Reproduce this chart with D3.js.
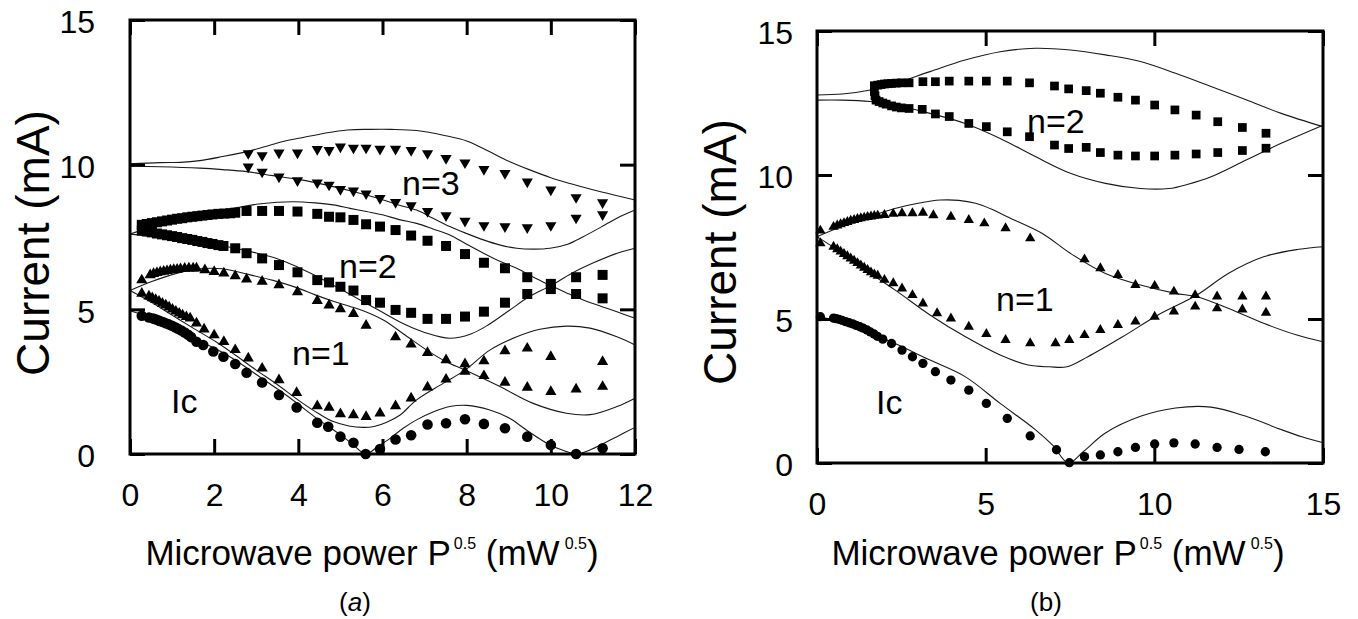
<!DOCTYPE html>
<html><head><meta charset="utf-8">
<script src="https://cdn.jsdelivr.net/npm/d3@7"></script>
<style>body{margin:0;background:#fff} svg{display:block} text{font-family:"Liberation Sans",Arial,Helvetica,sans-serif;fill:#000}</style>
</head><body><svg id="c" width="1358" height="619"></svg>
<script>
// ---------- Panel (a) data ----------
const aXTicks = [0,2,4,6,8,10,12];
const aYTicks = [0,5,10,15];
const aIc = [[0.28,4.78],[0.45,4.72],[0.55,4.68],[0.62,4.65],[0.7,4.6],[0.78,4.56],[0.85,4.52],[0.92,4.48],[1.0,4.43],[1.07,4.38],[1.14,4.33],[1.22,4.27],[1.3,4.2],[1.38,4.12],[1.45,4.04],[1.58,3.88],[1.74,3.77],[1.98,3.54],[2.22,3.36],[2.5,3.11],[2.77,2.81],[3.14,2.47],[3.54,2.04],[3.96,1.61],[4.45,1.08],[4.71,0.94],[5.0,0.6],[5.31,0.39],[5.6,0.0],[5.94,0.17],[6.31,0.5],[6.68,0.65],[7.07,1.02],[7.51,1.06],[7.96,1.2],[8.41,1.04],[8.91,0.89],[9.44,0.6],[10.0,0.31],[10.6,0.0],[11.23,0.2]];
const aN1 = [[0.28,6.01],[0.48,6.19],[0.56,6.23],[0.64,6.26],[0.72,6.29],[0.8,6.31],[0.88,6.33],[0.96,6.35],[1.04,6.37],[1.12,6.38],[1.2,6.4],[1.3,6.41],[1.4,6.42],[1.5,6.42],[1.58,6.42],[1.78,6.36],[2.0,6.3],[2.23,6.25],[2.5,6.15],[2.77,6.04],[3.14,5.96],[3.54,5.84],[3.98,5.6],[4.45,5.3],[4.73,5.14],[5.0,5.01],[5.31,4.85],[5.61,4.44],[6.31,4.04],[6.68,3.79],[7.07,3.5],[7.51,3.25],[7.96,3.11],[8.41,3.21],[8.91,3.56],[9.44,3.65],[10.0,3.36],[11.23,3.19],
  [0.28,5.55],[0.45,5.45],[0.53,5.39],[0.61,5.33],[0.69,5.27],[0.77,5.2],[0.85,5.14],[0.93,5.07],[1.01,5.0],[1.09,4.93],[1.17,4.86],[1.25,4.8],[1.34,4.74],[1.43,4.69],[1.58,4.52],[1.76,4.31],[2.0,4.11],[2.23,3.88],[2.5,3.6],[2.81,3.31],[3.14,2.96],[3.54,2.56],[3.96,2.12],[4.45,1.66],[4.73,1.61],[5.0,1.38],[5.31,1.35],[5.61,1.29],[5.94,1.41],[6.31,1.66],[6.68,1.93],[7.07,2.31],[7.51,2.58],[7.96,2.85],[8.41,2.7],[8.91,2.47],[9.44,2.3],[10.0,2.15],[10.6,2.24],[11.23,2.33]];
const aN2 = [[0.28,7.92],[0.4,7.95],[0.52,7.98],[0.64,8.01],[0.76,8.04],[0.88,8.07],[1.0,8.1],[1.12,8.13],[1.24,8.15],[1.36,8.18],[1.48,8.2],[1.6,8.22],[1.72,8.24],[1.84,8.26],[1.96,8.28],[2.1,8.3],[2.24,8.31],[2.38,8.32],[2.5,8.34],[2.77,8.4],[3.14,8.4],[3.54,8.4],[3.98,8.38],[4.45,8.3],[4.73,8.2],[5.0,8.18],[5.31,8.09],[5.61,7.94],[5.94,7.86],[6.31,7.74],[6.68,7.55],[7.07,7.37],[7.51,7.19],[7.96,6.91],[8.41,6.61],[8.91,6.42],[9.44,6.11],[10.0,5.88],[10.6,6.11],[11.23,6.19],
  [0.28,7.72],[0.4,7.69],[0.52,7.66],[0.64,7.62],[0.76,7.59],[0.88,7.56],[1.0,7.53],[1.12,7.5],[1.24,7.46],[1.36,7.43],[1.48,7.4],[1.6,7.36],[1.72,7.33],[1.84,7.29],[1.96,7.26],[2.1,7.22],[2.22,7.19],[2.5,7.11],[2.77,6.94],[3.14,6.76],[3.54,6.53],[3.98,6.28],[4.45,6.01],[4.73,5.93],[5.0,5.78],[5.31,5.65],[5.61,5.32],[5.94,5.23],[6.31,4.98],[6.68,4.88],[7.07,4.67],[7.51,4.67],[7.96,4.75],[8.41,4.92],[8.91,5.23],[9.44,5.53],[10.0,5.7],[10.6,5.53],[11.23,5.38]];
const aN3 = [[2.81,10.39],[3.14,10.32],[3.54,10.41],[3.98,10.41],[4.45,10.53],[4.73,10.5],[5.0,10.62],[5.31,10.58],[5.61,10.58],[5.94,10.54],[6.31,10.54],[6.68,10.5],[7.07,10.39],[7.51,10.22],[7.96,10.07],[8.41,9.84],[8.91,9.7],[9.44,9.41],[10.0,9.13],[10.6,8.87],[11.23,8.69],
  [2.81,9.93],[3.14,9.75],[3.54,9.58],[3.98,9.45],[4.45,9.38],[4.73,9.3],[5.0,9.15],[5.31,9.1],[5.61,9.0],[5.94,8.84],[6.31,8.7],[6.68,8.59],[7.07,8.39],[7.51,8.24],[7.96,8.05],[8.41,7.9],[8.91,7.86],[9.44,7.83],[10.0,7.9],[10.6,8.16],[11.23,8.28]];
const aLineIc = [[0,4.95],[0.5,4.7],[0.87,4.4],[1.5,4.0],[1.98,3.68],[2.5,3.25],[2.85,2.9],[3.2,2.55],[3.6,2.15],[4.0,1.72],[4.44,1.23],[5.0,0.66],[5.3,0.33],[5.6,0.0],[5.9,0.27],[6.18,0.54],[6.5,0.9],[6.81,1.18],[7.2,1.45],[7.6,1.64],[8.0,1.68],[8.55,1.52],[9.0,1.25],[9.42,0.83],[9.98,0.31],[10.3,0.12],[10.61,0.0],[10.93,0.14],[11.3,0.4],[11.57,0.6],[12,0.92]];
const aLineN1a = [[0,5.65],[0.5,5.25],[1.0,4.8],[1.5,4.35],[2.06,3.86],[2.5,3.42],[3.0,2.9],[3.5,2.4],[4.04,1.82],[4.5,1.38],[4.83,1.12],[5.2,0.97],[5.54,0.92],[5.8,0.95],[6.1,1.1],[6.42,1.35],[6.81,1.87],[7.44,2.44],[7.96,2.9],[8.55,3.59],[9.19,4.05],[9.74,4.31],[10.37,4.42],[10.93,4.35],[11.57,4.05],[12,3.77]];
const aLineN1b = [[0,5.65],[0.5,5.95],[1.0,6.2],[1.66,6.4],[2.2,6.4],[2.77,6.22],[3.4,6.0],[3.96,5.75],[4.4,5.5],[4.83,5.28],[5.23,5.1],[5.54,4.95],[6.02,4.63],[6.5,4.15],[7.05,3.59],[7.5,3.2],[7.96,2.9],[8.79,2.33],[9.58,1.75],[10.37,1.41],[10.93,1.36],[11.57,1.64],[12,1.93]];
const aLineN2a = [[0,7.6],[1,7.45],[2,7.25],[3,6.95],[3.5,6.75],[4,6.45],[4.5,6.1],[5,5.7],[5.5,5.3],[6,4.9],[6.5,4.5],[7,4.2],[7.6,4.0],[8.1,4.15],[8.5,4.45],[9,4.95],[9.5,5.45],[10,5.82],[10.5,6.25],[11,6.6],[11.5,6.9],[12,7.11]];
const aLineN2b = [[0,7.6],[0.5,7.85],[1,8.05],[1.5,8.22],[2,8.38],[2.69,8.55],[3.0,8.63],[3.5,8.7],[3.88,8.72],[4.4,8.68],[4.83,8.61],[5.23,8.49],[5.62,8.38],[6.02,8.26],[6.4,8.1],[6.81,7.97],[7.2,7.78],[7.6,7.57],[8.0,7.25],[8.4,6.94],[8.8,6.65],[9.19,6.42],[9.6,6.1],[10.0,5.82],[10.4,5.55],[10.77,5.32],[11.2,5.1],[11.57,4.92],[12,4.69]];
const aLineN3a = [[0,9.95],[0.7,9.93],[1.66,9.88],[2.2,9.83],[2.77,9.76],[3.4,9.62],[3.96,9.5],[4.4,9.38],[4.83,9.24],[5.23,9.1],[5.62,8.95],[6.02,8.78],[6.4,8.6],[6.81,8.43],[7.2,8.15],[7.6,7.86],[8.0,7.62],[8.4,7.4],[8.8,7.22],[9.19,7.11],[9.6,7.08],[9.98,7.11],[10.4,7.25],[10.77,7.51],[11.2,7.85],[11.57,8.15],[12,8.43]];
const aLineN3b = [[0,10.03],[0.71,10.07],[1.2,10.08],[1.66,10.14],[2.2,10.28],[2.77,10.45],[3.2,10.62],[3.64,10.8],[4.14,10.95],[4.6,11.08],[5.17,11.2],[5.7,11.22],[6.2,11.22],[6.81,11.18],[7.5,11.0],[8.0,10.82],[8.5,10.48],[9.0,10.12],[9.5,9.82],[10.0,9.55],[10.5,9.33],[11.0,9.13],[11.5,8.95],[12,8.78]];

// ---------- Panel (b) data ----------
const bXTicks = [0,5,10,15];
const bYTicks = [0,5,10,15];
const bIc = [[0.1,5.08],[0.49,5.03],[0.57,5.01],[0.65,4.99],[0.75,4.95],[0.85,4.91],[0.95,4.87],[1.06,4.83],[1.16,4.78],[1.27,4.73],[1.37,4.68],[1.48,4.62],[1.58,4.55],[1.69,4.48],[1.79,4.4],[1.95,4.3],[2.21,4.15],[2.52,3.92],[2.83,3.69],[3.14,3.46],[3.51,3.17],[3.97,2.88],[4.5,2.53],[5.02,2.07],[5.64,1.55],[6.32,0.94],[7.1,0.46],[7.48,0.01],[7.93,0.22],[8.4,0.28],[8.92,0.39],[9.44,0.54],[10.01,0.66],[10.58,0.7],[11.21,0.66],[11.86,0.54],[12.51,0.47],[13.29,0.39]];
const bN1 = [[0.1,8.07],[0.49,8.2],[0.6,8.25],[0.7,8.29],[0.8,8.33],[0.9,8.37],[1.0,8.41],[1.1,8.44],[1.2,8.47],[1.3,8.5],[1.4,8.52],[1.5,8.54],[1.6,8.56],[1.7,8.58],[1.8,8.59],[2.0,8.61],[2.26,8.65],[2.52,8.67],[2.83,8.67],[3.14,8.69],[3.45,8.6],[3.97,8.55],[4.5,8.44],[4.96,8.32],[5.59,8.15],[6.32,7.8],[7.93,7.07],[8.4,6.76],[8.92,6.53],[9.44,6.18],[10.01,6.15],[10.58,5.95],[11.21,5.83],[11.86,5.78],[12.61,5.78],[13.31,5.78],
  [0.1,7.63],[0.49,7.51],[0.6,7.42],[0.7,7.34],[0.8,7.26],[0.9,7.18],[1.0,7.1],[1.1,7.02],[1.2,6.94],[1.3,6.86],[1.4,6.78],[1.5,6.7],[1.6,6.62],[1.7,6.55],[1.8,6.5],[2.0,6.36],[2.26,6.24],[2.52,6.06],[2.83,5.83],[3.14,5.54],[3.56,5.2],[3.97,5.02],[4.5,4.73],[5.02,4.48],[5.59,4.27],[6.32,4.16],[7.07,4.16],[7.48,4.27],[7.93,4.44],[8.4,4.62],[8.92,4.79],[9.44,4.91],[10.01,5.08],[10.58,5.26],[11.21,5.43],[11.86,5.37],[12.61,5.33],[13.31,5.22]];
const bN2 = [[1.7,13.1],[1.8,13.12],[1.9,13.14],[2.0,13.16],[2.1,13.17],[2.21,13.18],[2.35,13.19],[2.5,13.2],[2.73,13.2],[3.14,13.24],[3.51,13.24],[3.92,13.26],[4.5,13.26],[5.02,13.26],[5.64,13.26],[6.3,13.2],[7.04,13.09],[7.46,12.99],[7.98,12.93],[8.4,12.84],[8.92,12.7],[9.44,12.6],[10.01,12.43],[10.61,12.26],[11.24,12.08],[11.88,11.85],[12.61,11.65],[13.31,11.45],
  [1.7,12.9],[1.72,12.75],[1.75,12.6],[1.84,12.55],[1.95,12.5],[2.05,12.46],[2.21,12.4],[2.35,12.36],[2.5,12.33],[2.73,12.31],[3.12,12.28],[3.51,12.12],[3.92,12.03],[4.5,11.79],[5.02,11.68],[5.64,11.5],[6.3,11.33],[7.04,11.04],[7.46,10.92],[7.98,10.96],[8.4,10.78],[8.92,10.69],[9.44,10.66],[10.01,10.66],[10.61,10.69],[11.24,10.73],[11.88,10.78],[12.61,10.85],[13.31,10.93]];
const bLineIc = [[0,5.09],[0.5,4.95],[1.2,4.65],[2.31,4.15],[3.3,3.6],[4.39,3.0],[5.43,2.07],[6.47,1.16],[7.0,0.6],[7.45,0.0],[7.9,0.4],[8.55,1.04],[9.59,1.62],[10.63,1.91],[11.68,1.94],[12.72,1.62],[13.76,1.16],[14.4,0.9],[15,0.7]];
const bLineN1a = [[0,7.86],[0.6,7.4],[1.27,6.83],[2.31,6.01],[3.35,5.14],[4.39,4.39],[5.43,3.75],[6.26,3.4],[6.89,3.34],[7.41,3.34],[8.03,3.69],[9.07,4.39],[10.11,5.14],[11.26,5.83],[12.19,6.58],[13.24,7.16],[14.28,7.42],[15,7.51]];
const bLineN1b = [[0,7.86],[0.6,8.15],[1.27,8.44],[2.31,8.84],[3.0,9.02],[3.66,9.13],[4.2,9.12],[4.7,9.02],[5.2,8.8],[5.64,8.55],[6.68,7.97],[7.51,7.28],[8.55,6.58],[9.59,6.18],[10.63,5.89],[11.26,5.77],[12.19,5.37],[13.24,4.85],[14.2,4.45],[15,4.21]];
const bLineN2a = [[0,12.6],[0.75,12.6],[1.58,12.55],[2.31,12.43],[3.35,12.14],[4.39,11.79],[5.43,11.27],[6.47,10.64],[7.51,10.06],[8.55,9.71],[9.59,9.53],[10.43,9.53],[11.0,9.68],[11.68,9.94],[12.72,10.52],[13.76,11.1],[15,11.73]];
const bLineN2b = [[0,12.78],[0.75,12.81],[1.58,12.95],[2.31,13.18],[3.35,13.59],[4.39,13.99],[5.43,14.28],[6.47,14.4],[7.51,14.34],[8.55,14.17],[9.59,13.94],[10.63,13.53],[11.68,13.07],[12.72,12.61],[13.76,12.14],[15,11.68]];

const svg = d3.select('#c');

function panel(cfg){
  const x = d3.scaleLinear().domain(cfg.xDomain).range(cfg.xRange);
  const y = d3.scaleLinear().domain([0,15]).range(cfg.yRange);
  const g = svg.append('g');
  const line = d3.line().x(d=>x(d[0])).y(d=>y(d[1])).curve(d3.curveCatmullRom.alpha(0.5));
  cfg.lines.forEach(l=>g.append('path').attr('d',line(l)).attr('fill','none').attr('stroke','#1a1a1a').attr('stroke-width',1.1));
  cfg.markers.forEach(m=>{
    const sym = d3.symbol().type(m.type).size(m.size);
    g.append('g').selectAll('path').data(m.data).join('path')
      .attr('d',sym)
      .attr('transform',d=>`translate(${x(d[0])},${y(d[1])})`+(m.rot?' rotate(180)':''))
      .attr('fill','#000');
  });
  const [x0,x1]=cfg.xRange, [y0,y1]=cfg.yRange;
  const tk = 15;
  const ax = (axis, tx, ty, labels, pad) => {
    const a = g.append('g').attr('transform',`translate(${tx},${ty})`)
      .call(axis.tickSize(-tk).tickPadding(pad).tickFormat(labels? d3.format('d') : ''));
    a.select('.domain').remove();
    a.selectAll('.tick line').attr('stroke','#000').attr('stroke-width',3);
    a.selectAll('text').attr('font-size',32).attr('fill','#000').attr('font-family','"Liberation Sans",Arial,sans-serif');
    return a;
  };
  ax(d3.axisBottom(x).tickValues(cfg.xTicks),0,y0,true,29);
  ax(d3.axisTop(x).tickValues(cfg.xTicks),0,y1,false,0);
  const la = ax(d3.axisLeft(y).tickValues(cfg.yTicks),x0,0,true,cfg.yPad);
  la.selectAll('text').attr('dy','0.4em');
  ax(d3.axisRight(y).tickValues(cfg.yTicks),x1,0,false,0);
  g.append('rect').attr('x',x0).attr('y',y1).attr('width',x1-x0).attr('height',y0-y1)
    .attr('fill','none').attr('stroke','#000').attr('stroke-width',3);
  cfg.notes.forEach(n=>g.append('text').attr('x',n.x).attr('y',n.y).attr('font-size',34).text(n.t));
  // axis titles
  const xt = g.append('text').attr('x',cfg.xTitle[0]).attr('y',cfg.xTitle[1]).attr('text-anchor','middle').attr('font-size',35);
  xt.append('tspan').text('Microwave power P');
  xt.append('tspan').attr('font-size',16).attr('dy',-16).attr('dx',3).text('0.5');
  xt.append('tspan').attr('dy',16).text(' (mW');
  xt.append('tspan').attr('font-size',16).attr('dy',-16).attr('dx',5).text('0.5');
  xt.append('tspan').attr('dy',16).text(')');
  g.append('text').attr('transform',`translate(${cfg.yTitle[0]},${cfg.yTitle[1]}) rotate(-90)`)
    .attr('text-anchor','middle').attr('font-size',46).text('Current (mA)');
  const pl = g.append('text').attr('x',cfg.pLabel[0]).attr('y',cfg.pLabel[1]).attr('text-anchor','middle').attr('font-size',26);
  pl.append('tspan').text('(');
  pl.append('tspan').attr('font-style',cfg.italic?'italic':'normal').text(cfg.letter);
  pl.append('tspan').text(')');
}

panel({xDomain:[0,12], xRange:[130,635], yRange:[454,20], xTicks:aXTicks, yTicks:aYTicks, yPad:35,
  lines:[aLineIc,aLineN1a,aLineN1b,aLineN2a,aLineN2b,aLineN3a,aLineN3b],
  markers:[{data:aIc,type:d3.symbolCircle,size:88},{data:aN1,type:d3.symbolTriangle,size:54},
           {data:aN2,type:d3.symbolSquare,size:100},{data:aN3,type:d3.symbolTriangle,size:54,rot:true}],
  notes:[{x:402,y:195,t:'n=3'},{x:339,y:278,t:'n=2'},{x:292,y:365,t:'n=1'},{x:171,y:413,t:'Ic'}],
  xTitle:[372,565], yTitle:[49,243], pLabel:[355,611], letter:'a', italic:true});

panel({xDomain:[0,15], xRange:[817,1323], yRange:[463,31], xTicks:bXTicks, yTicks:bYTicks, yPad:24,
  lines:[bLineIc,bLineN1a,bLineN1b,bLineN2a,bLineN2b],
  markers:[{data:bIc,type:d3.symbolCircle,size:68},{data:bN1,type:d3.symbolTriangle,size:46},
           {data:bN2,type:d3.symbolSquare,size:76}],
  notes:[{x:1027,y:133,t:'n=2'},{x:996,y:311,t:'n=1'},{x:876,y:414,t:'Ic'}],
  xTitle:[1058,565], yTitle:[736,252], pLabel:[1046,611], letter:'b', italic:false});
</script></body></html>
